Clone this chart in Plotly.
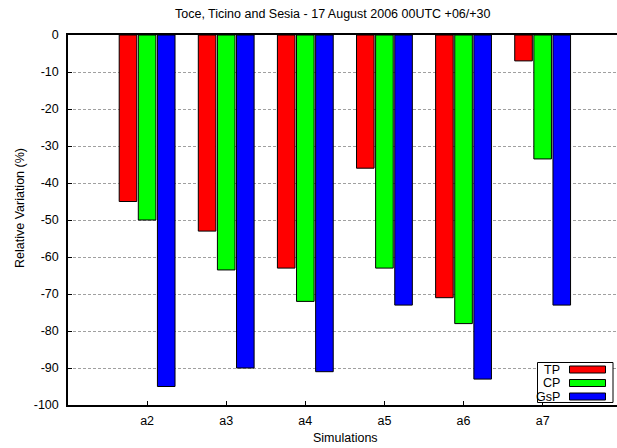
import plotly.graph_objects as go

categories = ["a2", "a3", "a4", "a5", "a6", "a7"]
tp = [-45, -53, -63, -36, -71, -7]
cp = [-50, -63.5, -72, -63, -78, -33.5]
gsp = [-95, -90, -91, -73, -93, -73]
series_names = ["TP", "CP", "GsP"]
series_colors = ["#ff0000", "#00ff00", "#0000ff"]
series_values = [tp, cp, gsp]
y_tickvals = [0, -10, -20, -30, -40, -50, -60, -70, -80, -90, -100]
y_ticktext = ["0", "-10", "-20", "-30", "-40", "-50", "-60", "-70", "-80", "-90", "-100"]

FONT = "Liberation Sans, Arial, Helvetica, sans-serif"
FS = 12.5

fig = go.Figure()
for name, vals, col in zip(series_names, series_values, series_colors):
    fig.add_trace(go.Bar(
        x=categories, y=vals, name=name,
        marker=dict(color=col, line=dict(color="#000000", width=1)),
        showlegend=False,
    ))

W, H = 617, 448
ml, mt = 68, 35
mr, mb = 0, H - 405
pw, ph = W - ml - mr, H - mt - mb

def px_to_paper(x, y):
    return (x - ml) / pw, 1 - (y - mt) / ph

shapes = []
annotations = []
# custom legend (text left, swatch right) in bottom-right box
x0, y0 = px_to_paper(537.5, 362.5)
x1, y1 = px_to_paper(613, 402.5)
shapes.append(dict(type="rect", xref="paper", yref="paper", x0=x0, y0=y1, x1=x1, y1=y0,
                   line=dict(color="#000000", width=1), fillcolor="#ffffff", layer="above"))
rows = [369.5, 383, 396.5]
for name, col, ry in zip(series_names, series_colors, rows):
    sx0, sy0 = px_to_paper(569.5, ry - 3.5)
    sx1, sy1 = px_to_paper(605.5, ry + 3.5)
    shapes.append(dict(type="rect", xref="paper", yref="paper", x0=sx0, y0=sy1, x1=sx1, y1=sy0,
                       line=dict(color="#000000", width=1), fillcolor=col, layer="above"))
    tx, ty = px_to_paper(562, ry)
    annotations.append(dict(text=name, xref="paper", yref="paper", x=tx, y=ty,
                            xanchor="right", yanchor="middle", showarrow=False,
                            font=dict(family=FONT, size=FS, color="#000000")))

# axis titles and chart title
ax, ay = px_to_paper(345, 438)
annotations.append(dict(text="Simulations", xref="paper", yref="paper", x=ax, y=ay,
                        xanchor="center", yanchor="middle", showarrow=False,
                        font=dict(family=FONT, size=FS, color="#000000")))
bx, by = px_to_paper(20, 208)
annotations.append(dict(text="Relative Variation (%)", xref="paper", yref="paper", x=bx, y=by,
                        xanchor="center", yanchor="middle", showarrow=False, textangle=-90,
                        font=dict(family=FONT, size=FS, color="#000000")))
tx, ty = px_to_paper(333, 14)
annotations.append(dict(text="Toce, Ticino and Sesia - 17 August 2006 00UTC +06/+30",
                        xref="paper", yref="paper", x=tx, y=ty,
                        xanchor="center", yanchor="middle", showarrow=False,
                        font=dict(family=FONT, size=FS, color="#000000")))

fig.update_layout(
    width=W, height=H,
    margin=dict(l=ml, r=mr, t=mt, b=mb, pad=0, autoexpand=False),
    paper_bgcolor="#ffffff", plot_bgcolor="#ffffff",
    barmode="group", bargap=0.275, bargroupgap=0.08,
    font=dict(family=FONT, size=FS, color="#000000"),
    shapes=shapes,
    annotations=annotations,
)
fig.update_xaxes(
    type="category", range=[-1.0, 5.94], automargin=False,
    showline=True, linecolor="#000000", linewidth=1.5, mirror=True,
    ticks="inside", ticklen=4, tickcolor="#000000",
    showgrid=False, zeroline=False,
    tickfont=dict(family=FONT, size=FS),
    ticklabelstandoff=3,
)
fig.update_yaxes(
    range=[-100, 0], tickvals=y_tickvals, ticktext=y_ticktext, automargin=False,
    showline=True, linecolor="#000000", linewidth=1.5, mirror=False,
    ticks="inside", ticklen=4, tickcolor="#000000",
    showgrid=True, gridcolor="#a0a0a0", gridwidth=1, griddash="3px,2px",
    zeroline=False,
    tickfont=dict(family=FONT, size=FS),
    ticklabelstandoff=5,
)

# remove the default 8px page margin so the figure fills the window exactly
fig.write_html("out.html", config={"displayModeBar": False},
               post_script="document.body.style.margin='0px';")
